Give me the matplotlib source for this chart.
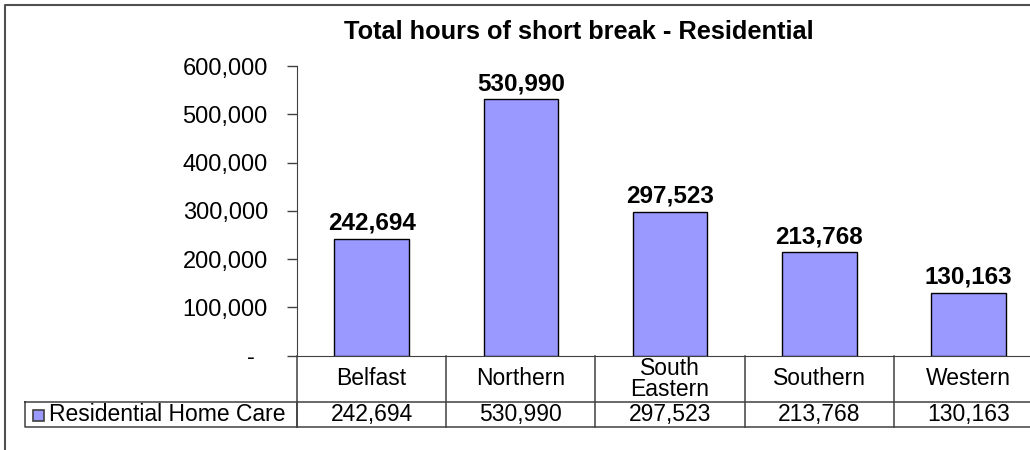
import matplotlib
matplotlib.use('Agg')
import matplotlib.pyplot as plt
import matplotlib.transforms as mtransforms
from matplotlib.patches import Rectangle

plt.rcParams['font.family'] = ['Liberation Sans', 'DejaVu Sans']

regions = ['Belfast', 'Northern', 'South\nEastern', 'Southern', 'Western']
hours = [242694, 530990, 297523, 213768, 130163]
series_name = 'Residential Home Care'
title = 'Total hours of short break - Residential'
yticks = [0, 100000, 200000, 300000, 400000, 500000, 600000]

bar_color = '#9999FF'
line_color = '#404040'

W, H = 1030, 450
fig = plt.figure(figsize=(W / 100, H / 100), dpi=100)


def fx(px):
    return px / W


def fy(py):
    return 1 - py / H


# plot area in pixels: left 297, right 1043 (runs off the picture), top 66, bottom 355.7
ax = fig.add_axes([fx(297), fy(355.7), fx(1043 - 297), fy(66) - fy(355.7)])
x = list(range(len(regions)))
ax.bar(x, hours, width=0.5, color=bar_color, edgecolor='#000000', linewidth=1.0, zorder=3)
ax.set_xlim(-0.5, len(regions) - 0.5)
ax.set_ylim(0, 600000)
ax.set_yticks(yticks)
ax.set_yticklabels(['-  '] + [f'{v:,}' for v in yticks[1:]], fontsize=17)
ax.tick_params(axis='y', direction='out', length=7, width=1, color=line_color, pad=14)
ax.set_xticks([])
for side in ('top', 'right'):
    ax.spines[side].set_visible(False)
ax.spines['left'].set_color(line_color)
ax.spines['bottom'].set_color(line_color)

for xi, v in zip(x, hours):
    ax.annotate(f'{v:,}', (xi, v), xytext=(0, 3), textcoords='offset points',
                ha='center', va='bottom', fontsize=17.5, fontweight='bold')

fig.text(fx(579), fy(32), title, ha='center', va='center', fontsize=18.3, fontweight='bold')

# data table under the plot, x follows the category axis, y in figure coords
trans = mtransforms.blended_transform_factory(ax.transData, fig.transFigure)
row1_top, row1_bot, row2_bot = fy(355.7), fy(402), fy(427)

for b in [xi - 0.5 for xi in x] + [x[-1] + 0.5]:
    ax.plot([b, b], [row1_top, row2_bot], color=line_color, lw=1.1, transform=trans, clip_on=False)
for yy in (row1_bot, row2_bot):
    ax.plot([-0.5, x[-1] + 0.5], [yy, yy], color=line_color, lw=1.1, transform=trans, clip_on=False)

for xi, name, v in zip(x, regions, hours):
    ax.text(xi, (row1_top + row1_bot) / 2, name, transform=trans, ha='center', va='center',
            fontsize=16.5, linespacing=0.85)
    ax.text(xi, (row1_bot + row2_bot) / 2, f'{v:,}', transform=trans, ha='center', va='center',
            fontsize=16.5)

# legend cell at the left of the value row
fig.lines.append(plt.Line2D([fx(25), fx(297), fx(297), fx(25), fx(25)],
                            [row1_bot, row1_bot, row2_bot, row2_bot, row1_bot],
                            color=line_color, lw=1.1, transform=fig.transFigure))
fig.patches.append(Rectangle((fx(33), fy(421)), fx(11), fy(410) - fy(421), facecolor=bar_color,
                             edgecolor=line_color, lw=1.2, transform=fig.transFigure))
fig.text(fx(49), (row1_bot + row2_bot) / 2, series_name, ha='left', va='center', fontsize=16.5)

# outer chart frame (top and left edges visible)
fig.lines.append(plt.Line2D([fx(5), fx(5), fx(1030)], [fy(450), fy(4.5), fy(4.5)],
                            color='#505050', lw=1.5, transform=fig.transFigure))

fig.savefig('out.png', dpi=100)
